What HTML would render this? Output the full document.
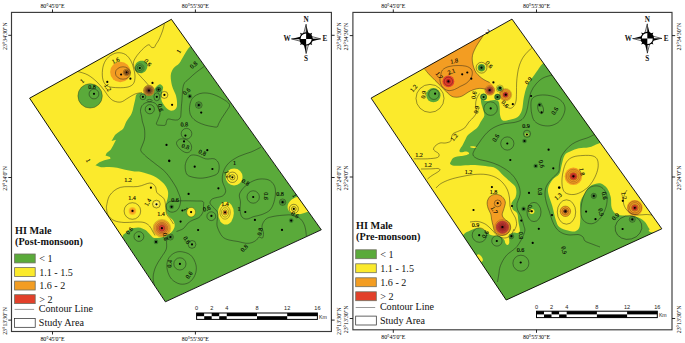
<!DOCTYPE html>
<html><head><meta charset="utf-8"><title>HI Male maps</title>
<style>html,body{margin:0;padding:0;background:#fff}svg{display:block}.cl{font-family:"Liberation Serif",serif;fill:#000;stroke:#000;stroke-width:0.12px}.ax{font-family:"Liberation Serif",serif;font-size:5.9px;fill:#000}.lg{font-family:"Liberation Serif",serif;font-size:10.1px;fill:#111}.lt{font-family:"Liberation Serif",serif;font-size:10.2px;font-weight:bold;fill:#111}.sb{font-family:"Liberation Sans",sans-serif;font-size:5.6px;fill:#222}.cp{font-family:"Liberation Serif",serif;font-size:7.2px;font-weight:bold;fill:#111}</style></head><body>
<svg width="685" height="343" viewBox="0 0 685 343">
<rect width="685" height="343" fill="#fff"/>
<defs>
<radialGradient id="gRed"><stop offset="0" stop-color="#7a1a1c"/><stop offset="0.12" stop-color="#cc3430"/><stop offset="0.32" stop-color="#d6402f"/><stop offset="0.4" stop-color="#d8702a"/><stop offset="0.65" stop-color="#e28628"/><stop offset="0.72" stop-color="#f09e2a"/><stop offset="0.94" stop-color="#f4ae2a"/><stop offset="1" stop-color="#f8cc2c"/></radialGradient>
<radialGradient id="gRed2"><stop offset="0" stop-color="#6a1518"/><stop offset="0.3" stop-color="#b02c2c"/><stop offset="0.75" stop-color="#cc4036"/><stop offset="1" stop-color="#d4503a"/></radialGradient>
<radialGradient id="gA"><stop offset="0" stop-color="#5a1a1c"/><stop offset="0.3" stop-color="#a83a30"/><stop offset="0.6" stop-color="#c8602c"/><stop offset="0.85" stop-color="#e8902a"/><stop offset="1" stop-color="#f0a82a"/></radialGradient>
<radialGradient id="gBrown"><stop offset="0" stop-color="#4a1a18"/><stop offset="0.35" stop-color="#8a4a2a"/><stop offset="0.7" stop-color="#c98a2e"/><stop offset="1" stop-color="#e2ad2c"/></radialGradient>
<radialGradient id="gOr"><stop offset="0" stop-color="#e9621f"/><stop offset="0.55" stop-color="#f39d22"/><stop offset="1" stop-color="#f7c92a"/></radialGradient>
<radialGradient id="gRedOr"><stop offset="0" stop-color="#8c1a1a"/><stop offset="0.25" stop-color="#dc3427"/><stop offset="0.45" stop-color="#e2402a"/><stop offset="0.5" stop-color="#f39d22"/><stop offset="1" stop-color="#f39d22"/></radialGradient>
<radialGradient id="gGr"><stop offset="0" stop-color="#2f6f2a"/><stop offset="0.6" stop-color="#4a9a36"/><stop offset="1" stop-color="#5aaa3a"/></radialGradient>
<clipPath id="cpL"><path d="M171.4,19.3 L321.3,229.8 L165.4,301.8 L29.6,98.2Z"/></clipPath>
<clipPath id="cpR"><path d="M512,19.1 L661.8,228.8 L506.2,300 L371.1,98.1Z"/></clipPath>
</defs>
<g clip-path="url(#cpL)">
<path d="M171.4,19.3 L321.3,229.8 L165.4,301.8 L29.6,98.2Z" fill="#5aaa3a"/>
<path d="M171.2,10 C176,15 196.8,34 200,40 C203.2,46 192.9,43.7 190.3,46.2 C187.7,48.7 186,52.2 184.2,55 C182.4,57.8 181.1,61 179.3,63.2 C177.5,65.4 174.9,66.3 173.5,68.3 C172.1,70.3 171.1,72.4 170.8,75 C170.5,77.6 171.1,81.5 171.6,84 C172.1,86.5 172.9,88.2 173.6,90 C174.3,91.8 175.2,93 175.8,95 C176.4,97 176.9,99.9 177,102 C177.1,104.1 177.1,106.3 176.4,107.7 C175.7,109.1 174.3,110.3 172.9,110.6 C171.5,110.9 169.8,110.6 168.2,109.5 C166.6,108.4 164.7,106 163.5,104.2 C162.3,102.4 161.4,100.4 161.2,98.4 C161,96.4 161.9,93.9 162.2,92 C162.5,90.1 163.4,88.3 163,87 C162.6,85.7 161.1,84.4 160,84.3 C158.9,84.2 157.7,85.4 156.5,86.5 C155.3,87.6 154.2,89.8 153,91 C151.8,92.2 150.7,93.6 149,94 C147.3,94.4 144.7,93.3 143,93.2 C141.3,93.1 140.1,92.9 139,93.2 C137.9,93.5 136.9,93.8 136.3,94.8 C135.7,95.8 135.7,97.2 135.3,99 C134.9,100.8 134.4,102.9 133.8,105.4 C133.2,107.9 132.7,111.2 131.5,113.8 C130.3,116.4 127.9,118.8 126.5,121.3 C125.1,123.8 124.5,126.9 123.3,128.6 C122.1,130.3 120.8,130.5 119.5,131.5 C118.2,132.5 116.6,133.4 115.5,134.6 C114.4,135.8 113.4,137.8 113,138.5 L111.5,140.9 L116,139.8 L113,145.7 L110.7,149.7 L106.7,152.9 L105.5,155.6 L110,157 L110.5,158.7 L104.3,160.3 L99.4,162.2 L95.4,165.2 L101,167.3 C102.3,167.2 106.4,166.8 109.1,166.9 C111.8,167 114.4,167.3 117.1,167.8 C119.8,168.3 122.4,169.1 125.1,169.7 C127.8,170.3 130.4,170.9 133.1,171.3 C135.8,171.7 137.9,171.1 141.3,171.9 C144.7,172.7 149.9,174.2 153.6,176 C157.2,177.8 160.9,180.7 163.2,183 C165.5,185.3 166.8,187.7 167.6,190 C168.4,192.3 168.2,194.4 167.9,197 C167.6,199.6 165.9,202.9 165.8,205.8 C165.7,208.7 166.1,211.7 167.4,214.3 C168.7,216.9 172.4,219.1 173.6,221.3 C174.8,223.5 175,225.4 174.4,227.4 C173.8,229.4 171.9,231.9 170,233.5 C168.1,235.1 165.6,236.3 163,237 C160.4,237.7 156.5,238.3 154.3,237.9 C152.1,237.5 151.5,235.7 150,234.4 C148.5,233.1 147.4,231.2 145.5,230 C143.6,228.8 141.1,227.5 138.5,227.4 C135.9,227.3 132.3,228 129.8,229.2 C127.3,230.4 126.9,232.6 123.6,234.4 C120.3,236.2 127.3,262.7 110,240 C92.7,217.3 35,121.7 20,98Z" fill="#fbea2c"/>
<circle cx="90.1" cy="95.9" r="12.2" fill="#5aaa3a"/>
<path d="M134.8,68 C134.9,66.8 135.2,64.7 136,63.5 C136.8,62.3 138.2,61.4 139.5,61 C140.8,60.6 142.8,60.5 144,60.9 C145.2,61.3 146.4,62.5 147,63.5 C147.6,64.5 147.6,65.8 147.3,67 C147.1,68.2 146.4,70 145.5,71 C144.6,72 143.2,72.9 142,73.2 C140.8,73.5 139.1,73.2 138,72.8 C136.9,72.4 136,71.8 135.5,71 C135,70.2 134.7,69.2 134.8,68Z" fill="#58a83a"/>
<circle cx="120.3" cy="72" r="10.2" fill="#f39d22"/>
<circle cx="126.8" cy="72.6" r="2.4" fill="#b5651f"/>
<circle cx="148.9" cy="90.5" r="5.6" fill="url(#gBrown)"/>
<circle cx="158.6" cy="89.6" r="2.6" fill="#3f8a30"/>
<circle cx="234.1" cy="176.9" r="8.5" fill="#fbea2c"/>
<ellipse cx="225.9" cy="213.1" rx="7.9" ry="11.4" fill="#fbea2c"/>
<circle cx="225.1" cy="212.4" r="2.2" fill="#f08a1f"/>
<path d="M287.6,207.5 C287.6,206.3 287.7,204.8 288.4,203.5 C289.1,202.2 290.2,200.7 291.8,199.6 C293.4,198.5 295.3,196.9 297.7,197 C300.1,197.1 303.9,197.8 306,200 C308.1,202.2 310.1,207.9 310,210 C309.9,212.1 307.5,211.8 305.7,212.5 C303.9,213.2 301.4,214.2 299.1,214.3 C296.8,214.4 293.6,213.5 291.8,212.9 C290.1,212.3 289.3,211.4 288.6,210.5 C287.9,209.6 287.6,208.7 287.6,207.5Z" fill="#fbea2c"/>
<ellipse cx="191.1" cy="212.2" rx="4.4" ry="4.8" fill="#fbea2c"/>
<circle cx="156.4" cy="204.1" r="2.2" fill="#fdf27a"/>
<circle cx="132.4" cy="211" r="3.9" fill="url(#gOr)"/>
<circle cx="161.9" cy="228.2" r="8.8" fill="url(#gRed)"/>
</g>
<g clip-path="url(#cpL)">
<path d="M164.4,23.7 C164.1,24.9 163.4,28.4 162.5,31 C161.6,33.6 160.1,37.2 159,39.5 C157.9,41.8 156.5,43.5 155.7,44.8 C154.9,46.1 155,47 154.3,47.4 C153.6,47.8 152.3,47.8 151.5,47.4 C150.7,47 150.2,45.3 149.5,45 C148.8,44.7 148.2,44.7 147,45.5 C145.8,46.3 143.9,47.8 142.1,49.7 C140.2,51.7 137.3,54.9 135.9,57.2 C134.5,59.5 133.4,61.1 133.4,63.4 C133.4,65.7 134.8,68.7 135.9,70.8 C137,72.9 138.8,74.3 140.2,76 C141.6,77.7 143.2,79.2 144.6,80.7 C145.9,82.2 147.7,84.3 148.3,85" fill="none" stroke="#1a1a1a" stroke-width="0.45"/>
<path d="M104,82.5 C103,80.6 102.4,77.9 102.3,75 C102.2,72.1 102.5,68 103.5,65 C104.5,62 106.2,59 108.5,57 C110.8,55 114.2,53.2 117,52.8 C119.8,52.4 123.2,53.1 125.5,54.5 C127.8,55.9 129.6,58.6 131,61 C132.4,63.4 133.1,66.3 133.8,69 C134.5,71.7 135.1,74.6 135,77 C134.9,79.4 134.7,81.8 133.5,83.5 C132.3,85.2 130.6,86.3 128,87 C125.4,87.7 121.2,87.8 118,87.7 C114.8,87.6 110.8,87.4 108.5,86.5 C106.2,85.6 105,84.4 104,82.5Z" fill="none" stroke="#1a1a1a" stroke-width="0.45"/>
<ellipse cx="123" cy="73" rx="7.6" ry="6.2" fill="none" stroke="#1a1a1a" stroke-width="0.45"/>
<circle cx="126.6" cy="72.4" r="2.2" fill="none" stroke="#1a1a1a" stroke-width="0.45"/>
<circle cx="126.6" cy="72.4" r="3.3" fill="none" stroke="#1a1a1a" stroke-width="0.35"/>
<path d="M78,71.5 C79.7,72.1 84.8,73.2 88,75 C91.2,76.8 94.3,79.5 97,82 C99.7,84.5 102,87.5 104,90 C106,92.5 107.3,95.2 109,97 C110.7,98.8 112,100.2 114,101 C116,101.8 118.7,102.5 121,102 C123.3,101.5 125.7,99.3 128,98 C130.3,96.7 132.7,94.9 135,94 C137.3,93.1 140.8,92.8 142,92.5" fill="none" stroke="#1a1a1a" stroke-width="0.45"/>
<circle cx="94" cy="94" r="4.9" fill="none" stroke="#1a1a1a" stroke-width="0.45"/>
<circle cx="90.1" cy="95.9" r="12.2" fill="none" stroke="#1a1a1a" stroke-width="0.35"/>
<circle cx="139.8" cy="68" r="2.6" fill="none" stroke="#1a1a1a" stroke-width="0.45"/>
<circle cx="139.8" cy="68" r="4.2" fill="none" stroke="#1a1a1a" stroke-width="0.35"/>
<circle cx="148.9" cy="90.5" r="1.6" fill="none" stroke="#2a1a10" stroke-width="0.3"/>
<circle cx="148.9" cy="90.5" r="2.8" fill="none" stroke="#2a1a10" stroke-width="0.3"/>
<circle cx="148.9" cy="90.5" r="4" fill="none" stroke="#2a1a10" stroke-width="0.3"/>
<circle cx="148.9" cy="90.5" r="5.2" fill="none" stroke="#2a1a10" stroke-width="0.3"/>
<circle cx="142.9" cy="96.8" r="2.9" fill="none" stroke="#1a1a1a" stroke-width="0.45"/>
<ellipse cx="156.8" cy="96.8" rx="2.9" ry="4" fill="none" stroke="#1a1a1a" stroke-width="0.45"/>
<circle cx="164.4" cy="94.9" r="3.5" fill="none" stroke="#1a1a1a" stroke-width="0.45"/>
<circle cx="158.6" cy="89.6" r="2.2" fill="none" stroke="#1a1a1a" stroke-width="0.45"/>
<ellipse cx="149.5" cy="100.5" rx="2.6" ry="1.1" fill="none" stroke="#1a1a1a" stroke-width="0.45"/>
<circle cx="149.8" cy="109.2" r="4.6" fill="none" stroke="#1a1a1a" stroke-width="0.45"/>
<path d="M141.5,116 C141.3,115 140.2,111.9 140.5,110 C140.8,108.1 141.6,105.8 143,104.5 C144.4,103.2 146.9,102.2 149,102 C151.1,101.8 153.9,102.3 155.5,103.5 C157.1,104.7 157.9,107.3 158.7,109 C159.4,110.7 160.1,112 160,113.8 C159.9,115.5 158.6,117.8 158,119.5 C157.4,121.2 156,123.3 156.5,124.3 C157,125.3 159.5,125.2 161,125.3 C162.5,125.4 164.4,125.7 165.3,125.1 C166.2,124.5 166.1,122.5 166.5,121.5 C166.9,120.5 166.9,119.3 168,119 C169.1,118.7 171.4,119.6 173,119.8 C174.6,120 176.4,120.3 177.6,119.9 C178.8,119.5 179.7,118.7 180.3,117.5 C180.9,116.3 180.8,115.1 181,113 C181.2,110.9 181.3,107.2 181.5,105 C181.7,102.8 181.7,103.3 182,100 C182.3,96.7 182.3,88.6 183.5,85 C184.7,81.4 187.2,80.6 189.3,78.5 C191.4,76.4 193.5,74.5 196,72.5 C198.5,70.5 203,67.3 204.4,66.3" fill="none" stroke="#1a1a1a" stroke-width="0.45"/>
<path d="M141.5,116 C141.7,117 142,120 142.5,122 C143,124 143.9,125.8 144.3,127.8 C144.7,129.8 144.8,132 144.8,134 C144.8,136 144.8,138 144.3,140 C143.8,142 142.6,144.2 142,146 C141.4,147.8 140.4,149 140.8,150.5 C141.2,152 143.1,153.5 144.5,155 C145.9,156.5 147.7,157.8 149.5,159.3 C151.3,160.8 152.6,161.6 155.3,163.8 C158,166 162.6,169 165.8,172.5 C169,176 172.6,181.6 174.6,184.8 C176.6,188 177,189.2 178,191.8 C179,194.4 180.7,197.6 180.7,200.5 C180.7,203.4 179.4,207.4 178,209.3 C176.6,211.2 173.8,212.2 172,212.2 C170.2,212.2 167.9,210.8 167,209.5 C166.1,208.2 166,205.8 166.5,204.5 C167,203.2 168.4,202.1 170,201.5 C171.6,200.9 173.3,201.1 176,201 C178.7,200.9 182.7,200.8 186,200.8 C189.3,200.8 193.2,200.9 196,201 C198.8,201.1 201.8,200.7 203,201.5 C204.2,202.3 203.5,204.2 203.5,206 C203.5,207.8 203.8,210.1 203,212 C202.2,213.9 200.7,216.2 199,217.5 C197.3,218.8 194.8,219.1 193,220 C191.2,220.9 189.6,221.6 188,223 C186.4,224.4 185.4,227.1 183.5,228.5 C181.6,229.9 177.7,231 176.5,231.5" fill="none" stroke="#1a1a1a" stroke-width="0.45"/>
<path d="M229.5,104.5 C228.8,102.4 224.9,100.2 222,98.5 C219.1,96.8 215.2,94.9 212,94 C208.8,93.1 205.6,92.8 203,93 C200.4,93.2 198.4,93.9 196.5,95 C194.6,96.1 192.8,97.4 191.6,99.5 C190.4,101.6 189.7,105.2 189.5,107.7 C189.3,110.2 189.7,112.7 190.4,114.7 C191.2,116.7 192.6,118.2 194,119.5 C195.4,120.8 196.8,121.6 198.6,122.5 C200.4,123.4 202.8,124.3 205,125 C207.2,125.7 210,126.2 212,126.5 C214,126.8 215.9,127.4 217,127 C218.1,126.6 217.8,125.4 218.5,124 C219.2,122.6 220.2,120.7 221.5,118.5 C222.8,116.3 225.2,113.3 226.5,111 C227.8,108.7 230.2,106.6 229.5,104.5Z" fill="none" stroke="#1a1a1a" stroke-width="0.45"/>
<circle cx="198.8" cy="105.1" r="3.3" fill="none" stroke="#1a1a1a" stroke-width="0.45"/>
<circle cx="198.8" cy="105.1" r="1.8" fill="none" stroke="#1a1a1a" stroke-width="0.3"/>
<circle cx="186.5" cy="133.7" r="5.3" fill="none" stroke="#1a1a1a" stroke-width="0.45"/>
<path d="M184,139 C185.6,139.2 187.2,139.8 188.5,141 C189.8,142.2 191.2,144.3 191.5,146 C191.8,147.7 191.4,149.9 190.5,151 C189.6,152.1 187.8,152.9 186,152.6 C184.2,152.3 181.6,150.5 180,149 C178.4,147.5 176.7,145.1 176.5,143.5 C176.3,141.9 177.8,140.2 179,139.5 C180.2,138.8 182.4,138.8 184,139Z" fill="none" stroke="#1a1a1a" stroke-width="0.45"/>
<path d="M260.9,147.2 C259.3,148 255,150.4 251.3,151.9 C247.7,153.4 242.8,154.4 239,156.3 C235.2,158.2 231.1,160.7 228.5,163.3 C225.9,165.9 224.3,169.1 223.3,172 C222.3,174.9 222.1,178.1 222.4,180.8 C222.7,183.5 224.5,186.1 225,188 C225.5,189.9 225.9,190.7 225.5,192 C225.1,193.3 224.5,195 222.3,196.1 C220.2,197.2 214.7,197.6 212.6,198.8 C210.5,200 209.8,201.7 210,203.1 C210.2,204.5 212.2,205.9 213.5,207.5 C214.8,209.1 217.1,210.7 217.7,212.8 C218.3,214.8 217.3,217.7 217.2,220 C217.1,222.3 216.5,224 217.3,226.8 C218.1,229.5 220.3,234.2 222.2,236.4 C224.2,238.6 226.4,239.2 229,240 C231.6,240.8 235.2,240.9 238,241.5 C240.8,242.1 243.7,243.1 246,243.3 C248.3,243.5 250.2,243.2 252,242.6 C253.8,242 255.3,240.9 256.5,240 C257.7,239.1 258,237.3 259,237 C260,236.7 261.8,238.7 262.5,238 C263.2,237.3 263.6,235 263.5,233 C263.4,231 261.6,228.3 262,226 C262.4,223.7 264,220.6 266,219 C268,217.4 270.9,217 274,216.3 C277.1,215.7 281.6,215.3 284.6,215.1 C287.6,214.9 289.4,214.6 291.8,215.1 C294.2,215.6 297.2,216.5 299.1,217.8 C301.1,219.1 302.4,221.1 303.5,223 C304.6,224.9 305,226.8 305.5,229 C306,231.2 306.2,234.8 306.4,236" fill="none" stroke="#1a1a1a" stroke-width="0.45"/>
<path d="M190,155.8 C191.9,154.5 194.4,154.9 197,155.4 C199.6,155.9 202.9,158.3 205.8,158.9 C208.7,159.5 212.3,158 214.5,158.9 C216.7,159.8 218.3,161.9 218.9,164.2 C219.5,166.5 219.3,170.9 218,172.9 C216.7,174.9 213.9,175.5 211,176.4 C208.1,177.3 204,178.2 200.5,178.2 C197,178.2 192.4,177.3 190,176.4 C187.6,175.5 186.8,174.7 186,172.5 C185.2,170.3 184.8,166.3 185.5,163.5 C186.2,160.7 188.1,157.2 190,155.8Z" fill="none" stroke="#1a1a1a" stroke-width="0.45"/>
<circle cx="232.4" cy="177.3" r="2.6" fill="none" stroke="#1a1a1a" stroke-width="0.45"/>
<circle cx="232.4" cy="177.3" r="5.2" fill="none" stroke="#1a1a1a" stroke-width="0.45"/>
<path d="M245.3,186 C247.4,183.9 249.6,182.7 252,181.5 C254.4,180.3 257.2,179.2 260,179 C262.8,178.8 266.5,179 268.8,180 C271.1,181 272.9,183 274,185 C275.1,187 275.5,189.2 275.5,192 C275.5,194.8 274.9,199 274,202 C273.1,205 272,207.9 270,210 C268,212.1 264.7,213.4 262,214.5 C259.3,215.6 256.5,215.8 254,216.5 C251.5,217.2 249,218.9 247,219 C245,219.1 243.2,218.5 242,217 C240.8,215.5 240.2,212.5 240,210 C239.8,207.5 240.6,204.7 240.5,202 C240.4,199.3 238.7,196.7 239.5,194 C240.3,191.3 243.2,188.1 245.3,186Z" fill="none" stroke="#1a1a1a" stroke-width="0.45"/>
<circle cx="253.2" cy="197" r="6.2" fill="none" stroke="#1a1a1a" stroke-width="0.45"/>
<circle cx="282.6" cy="202.2" r="3.2" fill="none" stroke="#1a1a1a" stroke-width="0.45"/>
<circle cx="282.6" cy="202.2" r="1.7" fill="none" stroke="#1a1a1a" stroke-width="0.3"/>
<circle cx="293.8" cy="208.9" r="2.4" fill="none" stroke="#1a1a1a" stroke-width="0.45"/>
<circle cx="293.8" cy="208.9" r="4.6" fill="none" stroke="#1a1a1a" stroke-width="0.45"/>
<circle cx="211.3" cy="216.2" r="4.4" fill="none" stroke="#1a1a1a" stroke-width="0.45"/>
<ellipse cx="225.1" cy="212.4" rx="2" ry="2.6" fill="none" stroke="#1a1a1a" stroke-width="0.35"/>
<ellipse cx="225.1" cy="212.4" rx="3.6" ry="4.7" fill="none" stroke="#1a1a1a" stroke-width="0.35"/>
<ellipse cx="225.1" cy="212.4" rx="5.2" ry="6.8" fill="none" stroke="#1a1a1a" stroke-width="0.35"/>
<path d="M106.3,207 C106.9,205.1 107.5,198.6 109.8,195.3 C112.1,192 115.6,188.9 120.3,187.4 C125,185.9 132.9,187.2 137.8,186.5 C142.8,185.8 147.1,183 150,183 C152.9,183 154.1,184.9 155.3,186.5 C156.5,188.1 155.6,190.6 157,192.7 C158.4,194.8 162.5,196.3 164,198.8 C165.5,201.3 165.4,205 165.8,207.5 C166.2,210 165.8,212.2 166.5,214 C167.2,215.8 168.8,216.8 170,218.5 C171.2,220.2 172.9,223.1 173.5,224" fill="none" stroke="#1a1a1a" stroke-width="0.45"/>
<path d="M106.3,207 C106.6,208.3 106.7,212.8 108,215 C109.3,217.2 111.3,219.2 114,220.5 C116.7,221.8 120.5,222.2 124,222.5 C127.5,222.8 131.7,222 135,222 C138.3,222 141.6,221.8 144,222.5 C146.4,223.2 148.1,224.6 149.5,226 C150.9,227.4 151.6,229.4 152.5,231 C153.4,232.6 154.6,234.8 155,235.5" fill="none" stroke="#1a1a1a" stroke-width="0.45"/>
<circle cx="132.4" cy="211" r="8.3" fill="none" stroke="#1a1a1a" stroke-width="0.45"/>
<circle cx="156.4" cy="204.1" r="3.9" fill="none" stroke="#1a1a1a" stroke-width="0.45"/>
<ellipse cx="191.1" cy="212.2" rx="4.4" ry="4.8" fill="none" stroke="#1a1a1a" stroke-width="0.3"/>
<circle cx="161.9" cy="228.2" r="2.9" fill="none" stroke="#3a2410" stroke-width="0.3" stroke-opacity="0.6"/>
<circle cx="161.9" cy="228.2" r="4.4" fill="none" stroke="#3a2410" stroke-width="0.3" stroke-opacity="0.6"/>
<circle cx="161.9" cy="228.2" r="5.9" fill="none" stroke="#3a2410" stroke-width="0.3" stroke-opacity="0.6"/>
<circle cx="161.9" cy="228.2" r="7.4" fill="none" stroke="#3a2410" stroke-width="0.3" stroke-opacity="0.6"/>
<circle cx="161.9" cy="228.2" r="8.8" fill="none" stroke="#3a2410" stroke-width="0.3" stroke-opacity="0.6"/>
<circle cx="138.9" cy="236.5" r="4.9" fill="none" stroke="#1a1a1a" stroke-width="0.45"/>
<circle cx="170.4" cy="237" r="3" fill="none" stroke="#1a1a1a" stroke-width="0.45"/>
<circle cx="192" cy="244.4" r="3.9" fill="none" stroke="#1a1a1a" stroke-width="0.45"/>
<circle cx="179.9" cy="263.9" r="6.1" fill="none" stroke="#1a1a1a" stroke-width="0.45"/>
<path d="M180,251.6 C183.1,251.7 187.8,252.8 190.5,255 C193.2,257.2 195.2,261.7 196,265 C196.8,268.3 196.2,272.1 195,275 C193.8,277.9 191.5,281 189,282.5 C186.5,284 182.9,284.6 180,284 C177.1,283.4 173.6,281.3 171.5,279 C169.4,276.7 168,273 167.3,270 C166.6,267 166.7,263.6 167.5,261 C168.3,258.4 169.9,256.1 172,254.5 C174.1,252.9 176.9,251.5 180,251.6Z" fill="none" stroke="#1a1a1a" stroke-width="0.45"/>
<path d="M168.5,236.5 C168.2,237.2 167,238.9 166.6,241 C166.2,243.1 167.2,246.2 166.3,249 C165.4,251.8 162.8,254.8 161,257.8 C159.2,260.7 157.1,263.3 155.8,266.5 C154.4,269.7 153.3,273.8 153.1,277 C152.9,280.2 154.3,284.5 154.5,286" fill="none" stroke="#1a1a1a" stroke-width="0.45"/>
</g>
<circle cx="171.6" cy="206.8" r="2.3" fill="#3d7d2e"/>
<circle cx="156" cy="241.9" r="2.3" fill="#3d7d2e"/>
<circle cx="291.2" cy="220.6" r="2.3" fill="#3d7d2e"/>
<circle cx="170.4" cy="237" r="2.3" fill="#3d7d2e"/>
<circle cx="282.6" cy="202.2" r="2.3" fill="#3d7d2e"/>
<circle cx="189.8" cy="96.3" r="2.3" fill="#3d7d2e"/>
<circle cx="198.8" cy="105.1" r="2.3" fill="#3d7d2e"/>
<circle cx="121.1" cy="74.5" r="1.1" fill="#000"/>
<circle cx="126.6" cy="72.4" r="1.1" fill="#000"/>
<circle cx="130.4" cy="78.7" r="1.1" fill="#000"/>
<circle cx="107.3" cy="81.9" r="1.1" fill="#000"/>
<circle cx="94" cy="93.8" r="1.1" fill="#000"/>
<circle cx="139.8" cy="68" r="1.1" fill="#000"/>
<circle cx="152.5" cy="82.9" r="1.1" fill="#000"/>
<circle cx="148.9" cy="90.5" r="1.1" fill="#000"/>
<circle cx="158.6" cy="89.6" r="1.1" fill="#000"/>
<circle cx="142.9" cy="96.8" r="1.1" fill="#000"/>
<circle cx="156.8" cy="96.8" r="1.1" fill="#000"/>
<circle cx="164.4" cy="94.9" r="1.1" fill="#000"/>
<circle cx="172.1" cy="104.8" r="1.1" fill="#000"/>
<circle cx="149.8" cy="109.2" r="1.1" fill="#000"/>
<circle cx="189.8" cy="96.3" r="1.1" fill="#000"/>
<circle cx="198.8" cy="105.1" r="1.1" fill="#000"/>
<circle cx="201.2" cy="112.6" r="1.1" fill="#000"/>
<circle cx="185.4" cy="135.6" r="1.1" fill="#000"/>
<circle cx="184" cy="141.4" r="1.1" fill="#000"/>
<circle cx="166.5" cy="144.9" r="1.1" fill="#000"/>
<circle cx="169.2" cy="160.7" r="1.1" fill="#000"/>
<circle cx="207.3" cy="150.2" r="1.1" fill="#000"/>
<circle cx="150.9" cy="187.7" r="1.1" fill="#000"/>
<circle cx="156.5" cy="204.3" r="1.1" fill="#000"/>
<circle cx="132.5" cy="210.9" r="1.1" fill="#000"/>
<circle cx="169.3" cy="161.1" r="1.1" fill="#000"/>
<circle cx="194.7" cy="166.7" r="1.1" fill="#000"/>
<circle cx="212.4" cy="169" r="1.1" fill="#000"/>
<circle cx="188.6" cy="193.9" r="1.1" fill="#000"/>
<circle cx="171.6" cy="206.8" r="1.1" fill="#000"/>
<circle cx="182.4" cy="210.5" r="1.1" fill="#000"/>
<circle cx="191.1" cy="212.1" r="1.1" fill="#000"/>
<circle cx="232.4" cy="177.3" r="1.1" fill="#000"/>
<circle cx="218.4" cy="188.3" r="1.1" fill="#000"/>
<circle cx="253.2" cy="197" r="1.1" fill="#000"/>
<circle cx="245.3" cy="212" r="1.1" fill="#000"/>
<circle cx="254.9" cy="219.9" r="1.1" fill="#000"/>
<circle cx="282" cy="229.9" r="1.1" fill="#000"/>
<circle cx="282.6" cy="202.2" r="1.1" fill="#000"/>
<circle cx="291.2" cy="220.6" r="1.1" fill="#000"/>
<circle cx="293.8" cy="208.9" r="1.1" fill="#000"/>
<circle cx="211.4" cy="215.9" r="1.1" fill="#000"/>
<circle cx="225.1" cy="212.4" r="1.1" fill="#000"/>
<circle cx="161.9" cy="228.2" r="1.1" fill="#000"/>
<circle cx="180.6" cy="221.6" r="1.1" fill="#000"/>
<circle cx="198.1" cy="230" r="1.1" fill="#000"/>
<circle cx="138.9" cy="236.5" r="1.1" fill="#000"/>
<circle cx="156" cy="241.9" r="1.1" fill="#000"/>
<circle cx="170.4" cy="237" r="1.1" fill="#000"/>
<circle cx="192" cy="244.4" r="1.1" fill="#000"/>
<circle cx="179.9" cy="263.9" r="1.1" fill="#000"/>
<text x="116.5" y="62.5" font-size="6.1" text-anchor="middle" transform="rotate(-25 116.5 62.5)" class="cl">1.6</text>
<text x="83.5" y="82.5" font-size="6.1" text-anchor="middle" transform="rotate(-40 83.5 82.5)" class="cl">1</text>
<text x="92" y="88.5" font-size="6.1" text-anchor="middle" transform="rotate(0 92 88.5)" class="cl">0.8</text>
<text x="106" y="88.5" font-size="6.1" text-anchor="middle" transform="rotate(60 106 88.5)" class="cl">1.2</text>
<text x="146.3" y="63.8" font-size="6.1" text-anchor="middle" transform="rotate(50 146.3 63.8)" class="cl">0.6</text>
<text x="180.5" y="52.5" font-size="6.1" text-anchor="middle" transform="rotate(-55 180.5 52.5)" class="cl">1</text>
<text x="195" y="66.5" font-size="6.1" text-anchor="middle" transform="rotate(-40 195 66.5)" class="cl">0.8</text>
<text x="86.5" y="161.5" font-size="6.1" text-anchor="middle" transform="rotate(65 86.5 161.5)" class="cl">1</text>
<text x="128" y="182" font-size="6.1" text-anchor="middle" transform="rotate(0 128 182)" class="cl">1.2</text>
<text x="132" y="199.5" font-size="6.1" text-anchor="middle" transform="rotate(0 132 199.5)" class="cl">1.4</text>
<text x="149.5" y="203.5" font-size="6.1" text-anchor="middle" transform="rotate(-60 149.5 203.5)" class="cl">1.4</text>
<text x="234.5" y="164.5" font-size="6.1" text-anchor="middle" transform="rotate(0 234.5 164.5)" class="cl">1</text>
<text x="225.5" y="175" font-size="6.1" text-anchor="middle" transform="rotate(70 225.5 175)" class="cl">1.2</text>
<text x="244.5" y="184" font-size="6.1" text-anchor="middle" transform="rotate(30 244.5 184)" class="cl">0.8</text>
<text x="264" y="196" font-size="6.1" text-anchor="middle" transform="rotate(90 264 196)" class="cl">0.6</text>
<text x="280" y="195.5" font-size="6.1" text-anchor="middle" transform="rotate(0 280 195.5)" class="cl">0.8</text>
<text x="175" y="202" font-size="6.1" text-anchor="middle" transform="rotate(0 175 202)" class="cl">0.6</text>
<text x="161" y="215.5" font-size="6.1" text-anchor="middle" transform="rotate(0 161 215.5)" class="cl">1.4</text>
<text x="131" y="232" font-size="6.1" text-anchor="middle" transform="rotate(-50 131 232)" class="cl">0.6</text>
<text x="163.5" y="237" font-size="6.1" text-anchor="middle" transform="rotate(80 163.5 237)" class="cl">0.6</text>
<text x="185" y="241" font-size="6.1" text-anchor="middle" transform="rotate(60 185 241)" class="cl">0.6</text>
<text x="207.4" y="210.5" font-size="6.1" text-anchor="middle" transform="rotate(-20 207.4 210.5)" class="cl">0.6</text>
<text x="184.3" y="210" font-size="6.1" text-anchor="middle" transform="rotate(60 184.3 210)" class="cl">1</text>
<text x="225" y="206.2" font-size="6.1" text-anchor="middle" transform="rotate(0 225 206.2)" class="cl">1.4</text>
<text x="171.6" y="264" font-size="6.1" text-anchor="middle" transform="rotate(-85 171.6 264)" class="cl">0.4</text>
<text x="190.6" y="276.3" font-size="6.1" text-anchor="middle" transform="rotate(-50 190.6 276.3)" class="cl">0.6</text>
<text x="262" y="232" font-size="6.1" text-anchor="middle" transform="rotate(-80 262 232)" class="cl">0.8</text>
<text x="245.8" y="249.5" font-size="6.1" text-anchor="middle" transform="rotate(-45 245.8 249.5)" class="cl">0.8</text>
<text x="184.5" y="126.5" font-size="6.1" text-anchor="middle" transform="rotate(-5 184.5 126.5)" class="cl">0.8</text>
<text x="185" y="148.5" font-size="6.1" text-anchor="middle" transform="rotate(15 185 148.5)" class="cl">0.8</text>
<text x="201.5" y="154.5" font-size="6.1" text-anchor="middle" transform="rotate(25 201.5 154.5)" class="cl">0.8</text>
<text x="158.5" y="108" font-size="6.1" text-anchor="middle" transform="rotate(80 158.5 108)" class="cl">0.6</text>
<text x="294" y="216.5" font-size="6.1" text-anchor="middle" transform="rotate(30 294 216.5)" class="cl">0.6</text>
<text x="293" y="196.5" font-size="6.1" text-anchor="middle" transform="rotate(60 293 196.5)" class="cl">1</text>
<text x="239" y="211" font-size="6.1" text-anchor="middle" transform="rotate(0 239 211)" class="cl">1</text>
<text x="188" y="93" font-size="6.1" text-anchor="middle" transform="rotate(-40 188 93)" class="cl">0.6</text>
<path d="M171.4,19.3 L321.3,229.8 L165.4,301.8 L29.6,98.2Z" fill="none" stroke="#000" stroke-width="0.9"/>
<g clip-path="url(#cpR)">
<path d="M512,19.1 L661.8,228.8 L506.2,300 L371.1,98.1Z" fill="#fbea2c"/>
<path d="M560,50 C550.6,45.5 547.1,59.8 543.5,63 C539.9,66.2 540,67 538.5,69 C537,71 536.2,72.2 534.3,75 C532.4,77.8 529,81.7 527.3,85.5 C525.5,89.3 524.7,93.7 523.8,97.8 C522.9,101.9 523,106.8 522,110 C521,113.2 519.7,115.4 517.7,117 C515.7,118.6 512.3,119.1 509.8,119.7 C507.3,120.3 504.4,121.2 502.8,120.5 C501.2,119.8 500.6,117.6 500.1,115.3 C499.6,113 499.9,108.8 499.6,106.5 C499.3,104.2 499.3,102.6 498.5,101.5 C497.7,100.4 496.3,100.2 495,100 C493.7,99.8 492.1,100.2 490.5,100.4 C488.9,100.6 487,101.2 485.5,101 C484,100.8 482,99 481.3,99.3 C480.6,99.6 481,101.5 481.2,103 C481.4,104.5 482.1,105.9 482.6,108 C483.1,110.1 484.6,113.2 484.3,115.5 C484,117.8 481.7,120 480.6,122 C479.5,124 479,125.7 477.6,127.3 C476.2,128.9 474,130.3 472.4,131.6 C470.8,132.9 469.2,133.8 468,135.1 C466.8,136.4 466.3,137.9 465.4,139.5 C464.5,141.1 463.8,143.1 462.8,144.8 C461.8,146.6 460,148.8 459.6,150 C459.2,151.2 459.4,152 460.5,152.3 C461.6,152.6 465.1,151.3 466.5,151.6 C467.9,151.9 469.8,153.2 468.9,153.9 C468,154.7 463.5,155.5 461,156.1 C458.5,156.7 455.7,156.6 454,157.5 C452.3,158.4 451.5,160.3 450.9,161.4 C450.3,162.5 449.7,163.3 450.2,164 C450.7,164.7 451.9,165.6 454,165.8 C456.1,166 459.3,165.6 462.8,165.4 C466.3,165.2 471.2,164.8 475,164.9 C478.8,165 482,165.5 485.5,166.1 C489,166.7 493,166.8 496,168.4 C499,170 500.8,173.1 503.3,175.4 C505.8,177.7 508.8,180.3 510.8,182.2 C512.8,184 514.3,184.9 515.2,186.5 C516.1,188.1 516.3,189.8 516.4,191.5 C516.5,193.2 516.2,195.4 515.6,197 C515,198.6 513.5,199.8 512.8,201 C512.1,202.2 511.4,202.6 511.4,204 C511.4,205.4 511.9,207.9 512.9,209.5 C513.9,211.1 516.4,211.4 517.3,213.5 C518.2,215.6 518,219 518.4,221.8 C518.8,224.6 520,228.6 519.9,230.5 C519.8,232.4 518.6,232.7 517.5,233 C516.4,233.3 514.7,232.2 513.5,232.5 C512.3,232.8 511.2,233.6 510.5,234.5 C509.8,235.4 509.4,236.6 509.2,238 C509,239.4 509.5,241.8 509.2,243 C508.9,244.2 508.1,244.9 507.5,245 C506.9,245.1 506.1,244.4 505.5,243.5 C504.9,242.6 505,240.7 504,239.5 C503,238.3 501.7,237.1 499.5,236.4 C497.3,235.7 493.1,236 490.8,235.1 C488.5,234.2 487.6,232 485.5,230.8 C483.4,229.6 481.1,228.1 478.5,228.1 C475.9,228.1 472.6,229.5 469.8,230.8 C467.1,232.1 467,231.1 462,236 C457,240.9 432.6,246 440,260 C447.4,274 466.4,323.3 506.4,320 C546.4,316.7 655.9,254.6 680,240 C704.1,225.4 656.1,234.2 651,232.3 C645.9,230.4 650.5,230.7 649.3,228.8 C648.1,226.9 646.3,223 644,220.9 C641.7,218.8 638.5,217.4 635.3,216.5 C632.1,215.6 628,216 624.8,215.6 C621.6,215.2 618.2,215.2 616,213.9 C613.8,212.6 612.6,210.6 611.7,207.8 C610.8,205 611.5,200.5 610.8,197.3 C610.1,194.1 608.9,190.8 607.3,188.5 C605.7,186.2 603,184.2 601,183.5 C599,182.8 597,183.4 595,184 C593,184.6 590.8,185.4 589,187 C587.2,188.6 586,191.2 584.5,193.8 C583,196.4 581,199.1 580.3,202.5 C579.6,205.9 580.5,209.9 580.4,214 C580.3,218.1 580.4,224.1 579.5,227 C578.6,229.9 576.9,230.8 575,231.4 C573.1,232 570.6,231.2 568,230.5 C565.4,229.8 561.3,228.8 559.3,227 C557.3,225.2 557,223.5 555.8,220 C554.6,216.5 553.5,210.1 552.3,206 C551.1,201.9 549.5,198.5 548.8,195.5 C548.1,192.5 547.6,190.6 548.2,188 C548.8,185.4 550.4,182.4 552.3,180 C554.2,177.6 557.9,176.2 559.4,173.8 C560.9,171.4 560.6,168.8 561.5,165.7 C562.4,162.6 563,157.8 564.5,155.4 C566,153 568.3,152.5 570.7,151.3 C573.1,150.1 575.8,149 578.8,148.3 C581.8,147.6 585.6,148.2 589,147.3 C592.4,146.5 594.1,145.2 599.3,143.2 C604.5,141.1 619.9,143.9 620,135 C620.1,126.1 610,104.2 600,90 C590,75.8 569.4,54.5 560,50Z" fill="#5aaa3a"/>
<ellipse cx="473.3" cy="147.1" rx="3.4" ry="0.8" fill="#fbea2c" transform="rotate(8 473.3 147.1)"/>
<ellipse cx="479.8" cy="258" rx="2.2" ry="4.2" fill="#fbea2c" transform="rotate(-33 479.8 258)"/>
<circle cx="531.8" cy="211.3" r="2.6" fill="#fbea2c"/>
<circle cx="526.9" cy="134.5" r="1.8" fill="#cfd83a"/>
<circle cx="433.4" cy="95.2" r="7.1" fill="#58a83a"/>
<circle cx="481.5" cy="67.7" r="3.8" fill="url(#gGr)"/>
<path d="M410,60 C407.5,66.6 421.6,66.9 424.9,69.4 C428.2,72 427.4,72.6 430,75.3 C432.6,78 437.3,82.6 440.5,85.8 C443.7,89 447,92.6 449.3,94.5 C451.6,96.4 452.5,96.8 454.5,97.1 C456.5,97.4 458.9,97.3 461.5,96.3 C464.1,95.3 467.4,92.3 470.3,91 C473.2,89.7 476.4,88.6 479,88.4 C481.6,88.2 484.2,89.2 486,90 C487.8,90.8 488.7,92.8 490,93 C491.3,93.2 493.5,92.2 494,91 C494.5,89.8 493.7,87.4 493,86 C492.3,84.6 491.6,83.8 489.7,82.5 C487.8,81.2 484.3,80.2 481.8,78.2 C479.3,76.2 476.4,73.7 474.8,70.3 C473.2,66.9 472.1,61.8 472.2,58 C472.3,54.2 473.8,51.3 475.7,47.5 C477.6,43.7 481.1,39.8 483.5,35.2 C485.9,30.7 497.2,20.9 490,20 C482.8,19.1 453.3,23.3 440,30 C426.7,36.7 412.5,53.4 410,60Z" fill="#f39d22"/>
<circle cx="481.5" cy="67.7" r="5.6" fill="#fbea2c"/>
<circle cx="481.5" cy="67.7" r="3.8" fill="url(#gGr)"/>
<circle cx="448.4" cy="81.4" r="5.9" fill="#e2402a"/>
<circle cx="448.4" cy="81.4" r="2.4" fill="#b0201e"/>
<circle cx="505.5" cy="94.7" r="6" fill="#f39d22"/>
<circle cx="505.5" cy="94.7" r="2.7" fill="#d23a30"/>
<circle cx="505.5" cy="94.7" r="1.3" fill="#8a1c1c"/>
<circle cx="489.8" cy="90.2" r="5.2" fill="url(#gA)"/>
<circle cx="499.8" cy="88.6" r="2.7" fill="url(#gGr)"/>
<circle cx="483.6" cy="97" r="3.4" fill="#5aaa3a"/>
<circle cx="497.5" cy="97" r="3.2" fill="url(#gGr)"/>
<path d="M496.3,194.4 C498.2,194.5 500.5,195.2 502,196.5 C503.5,197.8 505,200 505.3,202 C505.6,204 504.5,206.4 504,208.5 C503.5,210.6 502.1,213.1 502.2,214.8 C502.3,216.6 503.3,217.6 504.5,219 C505.7,220.4 508.5,221.3 509.5,223 C510.5,224.7 510.9,227.2 510.5,229 C510.1,230.8 508.7,232.9 507,234 C505.3,235.1 502.5,235.8 500.5,235.5 C498.5,235.2 496.2,233.7 495,232 C493.8,230.3 493.6,227.7 493,225.5 C492.4,223.3 491.9,220.9 491.5,219 C491.1,217.1 491.4,215.8 490.8,214 C490.2,212.2 488.6,210.1 488,208 C487.4,205.9 486.9,203.5 487.3,201.5 C487.7,199.5 489,197.2 490.5,196 C492,194.8 494.4,194.3 496.3,194.4Z" fill="#f39d22"/>
<circle cx="502.4" cy="227.2" r="6.5" fill="url(#gRed2)"/>
<circle cx="573.4" cy="176.3" r="8.7" fill="#f39d22"/>
<circle cx="573.4" cy="176.3" r="3.5" fill="#e2402a"/>
<circle cx="573.4" cy="176.3" r="1.7" fill="#a01c1c"/>
<circle cx="565.4" cy="211.3" r="5.4" fill="#f39d22"/>
<circle cx="565.4" cy="211.3" r="2.1" fill="#8a4a22"/>
<circle cx="634.8" cy="207.8" r="7.9" fill="#f39d22"/>
<circle cx="634.8" cy="207.8" r="2.8" fill="#e2402a"/>
</g>
<g clip-path="url(#cpR)">
<ellipse cx="448.4" cy="81.4" rx="4.2" ry="4.2" fill="none" stroke="#1a1a1a" stroke-width="0.35"/>
<path d="M440.6,76 C441,74.2 441.1,71.6 442.5,70 C443.9,68.4 446.4,67.2 449,66.5 C451.6,65.8 455.2,65.5 458,65.5 C460.8,65.5 463.8,65.6 466,66.2 C468.2,66.8 469.9,67.8 471,69 C472.1,70.2 472.4,71.8 472.3,73.5 C472.2,75.2 471.6,77.3 470.5,79 C469.4,80.7 467.8,82.2 466,83.5 C464.2,84.8 461.9,85.5 460,86.5 C458.1,87.5 456.5,88.8 454.5,89.5 C452.5,90.2 450,90.9 448,90.5 C446,90.1 443.8,88.6 442.5,87 C441.2,85.4 440.3,82.8 440,81 C439.7,79.2 440.2,77.8 440.6,76Z" fill="none" stroke="#1a1a1a" stroke-width="0.45"/>
<path d="M483.5,35.2 C482.2,37.3 477.6,43.7 475.7,47.5 C473.8,51.3 472.3,54.2 472.2,58 C472.1,61.8 473.2,66.9 474.8,70.3 C476.4,73.7 479.3,76.2 481.8,78.2 C484.3,80.2 488.4,81.8 489.7,82.5" fill="none" stroke="#1a1a1a" stroke-width="0.45"/>
<circle cx="481.5" cy="67.7" r="5.4" fill="none" stroke="#1a1a1a" stroke-width="0.45"/>
<circle cx="481.5" cy="67.7" r="2.4" fill="none" stroke="#1a1a1a" stroke-width="0.3"/>
<circle cx="430" cy="98.4" r="14" fill="none" stroke="#1a1a1a" stroke-width="0.45"/>
<circle cx="433.9" cy="94.3" r="5.2" fill="none" stroke="#1a1a1a" stroke-width="0.45"/>
<path d="M424.9,69.4 C425.8,70.4 427.4,72.6 430,75.3 C432.6,78 437.3,82.6 440.5,85.8 C443.7,89 447,92.6 449.3,94.5 C451.6,96.4 452.5,96.8 454.5,97.1 C456.5,97.4 458.9,97.3 461.5,96.3 C464.1,95.3 467.4,92.3 470.3,91 C473.2,89.7 476.4,88.7 479,88.4 C481.6,88.1 484.8,89.2 486,89.3" fill="none" stroke="#1a1a1a" stroke-width="0.45"/>
<circle cx="489.8" cy="90.2" r="2" fill="none" stroke="#2a1a10" stroke-width="0.3" stroke-opacity="0.6"/>
<circle cx="489.8" cy="90.2" r="3.4" fill="none" stroke="#2a1a10" stroke-width="0.3" stroke-opacity="0.6"/>
<circle cx="489.8" cy="90.2" r="4.8" fill="none" stroke="#2a1a10" stroke-width="0.3" stroke-opacity="0.6"/>
<circle cx="505.5" cy="94.7" r="2.2" fill="none" stroke="#2a1a10" stroke-width="0.3" stroke-opacity="0.6"/>
<circle cx="505.5" cy="94.7" r="3.6" fill="none" stroke="#2a1a10" stroke-width="0.3" stroke-opacity="0.6"/>
<circle cx="505.5" cy="94.7" r="5" fill="none" stroke="#2a1a10" stroke-width="0.3" stroke-opacity="0.6"/>
<circle cx="505.5" cy="94.7" r="6.2" fill="none" stroke="#2a1a10" stroke-width="0.3" stroke-opacity="0.6"/>
<circle cx="499.8" cy="88.6" r="2" fill="none" stroke="#1a1a1a" stroke-width="0.3"/>
<circle cx="499.8" cy="88.6" r="3.6" fill="none" stroke="#1a1a1a" stroke-width="0.3"/>
<circle cx="483.6" cy="97" r="2.8" fill="none" stroke="#1a1a1a" stroke-width="0.45"/>
<circle cx="497.5" cy="97" r="2.6" fill="none" stroke="#1a1a1a" stroke-width="0.45"/>
<circle cx="490.6" cy="108.6" r="6.8" fill="none" stroke="#1a1a1a" stroke-width="0.45"/>
<path d="M532,47.5 C530.7,48.9 526.1,53.1 524,56 C521.9,58.9 520.6,62 519.5,65 C518.4,68 518,71 517.5,74 C517,77 516.8,80 516.6,83 C516.4,86 516.6,89 516.5,92 C516.4,95 516.5,98.6 516,101 C515.5,103.4 514.5,105.3 513.5,106.5 C512.5,107.7 511.3,108.4 510,108.3 C508.7,108.2 507.1,107 505.8,106 C504.6,105 503.1,102.7 502.5,102" fill="none" stroke="#1a1a1a" stroke-width="0.45"/>
<path d="M552,75 C550.5,75.5 545.7,76.5 543,78 C540.3,79.5 538,81.7 536,84 C534,86.3 532.2,89 531,92 C529.8,95 529.2,98.7 528.5,102 C527.8,105.3 527.6,109.1 526.5,112 C525.4,114.9 524.1,117.8 522,119.5 C519.9,121.2 516.8,121.8 514,122.5 C511.2,123.2 507.8,122.9 505,123.5 C502.2,124.1 499.5,124.9 497,126 C494.5,127.1 492.2,128.3 490,130 C487.8,131.7 485.8,133.8 484,136 C482.2,138.2 480.5,140.8 479,143 C477.5,145.2 476,147 475,149 C474,151 472.5,153.3 473,155 C473.5,156.7 475.5,157.9 478,159 C480.5,160.1 484.7,160.5 488,161.5 C491.3,162.5 494.7,163.4 498,165 C501.3,166.6 505.2,168.9 508,171 C510.8,173.1 512.7,175.2 514.5,177.5 C516.3,179.8 517.6,182.6 518.6,185 C519.6,187.4 520.1,189.9 520.2,192 C520.3,194.1 519.8,195.6 519.3,197.5 C518.8,199.4 517.3,201.4 517,203.5 C516.7,205.6 516.9,207.9 517.6,210 C518.3,212.1 520,213.7 521,216.2 C522,218.7 523,222.3 523.6,225 C524.2,227.7 525.6,228.9 524.5,232.5 C523.4,236.1 520,242.7 517,246.5 C514,250.3 509.3,252.1 506.5,255.3 C503.7,258.5 501.7,262.5 500.4,265.8 C499.1,269.1 499.2,272.3 498.7,275 C498.2,277.7 497.7,280.8 497.5,282" fill="none" stroke="#1a1a1a" stroke-width="0.45"/>
<path d="M531,108 C530.9,105.5 530.7,102 531.5,100 C532.3,98 533.8,96.8 536,96 C538.2,95.2 541.8,94.8 545,95 C548.2,95.2 552.2,95.9 555,97 C557.8,98.1 560.3,99.7 562,101.5 C563.7,103.3 564.8,105.6 565,108 C565.2,110.4 564.2,113.6 563,116 C561.8,118.4 560.2,120.9 558,122.5 C555.8,124.1 552.8,125.4 550,125.8 C547.2,126.2 543.6,125.8 541,125 C538.4,124.2 536,122.7 534.5,121 C533,119.3 532.6,117.2 532,115 C531.4,112.8 531.1,110.5 531,108Z" fill="none" stroke="#1a1a1a" stroke-width="0.45"/>
<ellipse cx="540.6" cy="108.6" rx="2.7" ry="5.2" fill="none" stroke="#1a1a1a" stroke-width="0.45" transform="rotate(-15 540.6 108.6)"/>
<circle cx="507.3" cy="143.5" r="6.6" fill="none" stroke="#1a1a1a" stroke-width="0.45"/>
<circle cx="527" cy="133.8" r="3.6" fill="none" stroke="#1a1a1a" stroke-width="0.45"/>
<path d="M479.5,93.5 C479,94.4 477.1,97.1 476.5,99 C475.9,100.9 475.6,102.8 475.6,105 C475.6,107.2 476.6,110.1 476.4,112 C476.1,113.9 475.4,114.8 474.1,116.5 C472.9,118.2 470.5,120.1 468.9,122 C467.3,123.9 466.4,126.5 464.5,128.1 C462.6,129.7 459.4,130.7 457.5,131.6 C455.6,132.5 454.1,132.6 453.1,133.6 C452.1,134.6 451.9,136.2 451.5,137.5 C451.1,138.8 451.5,140.4 450.5,141.3 C449.5,142.2 447.1,142.7 445.3,143 C443.6,143.3 441.7,142.5 440,143 C438.3,143.5 436,145.1 435,146.2 C434,147.4 433.1,148.8 433.8,150 C434.4,151.2 438.1,152.5 438.8,153.8 C439.4,155 439.4,156.7 437.5,157.5 C435.6,158.3 431.5,158.5 427.5,158.8 C423.5,159 416,158.8 413.8,158.8" fill="none" stroke="#1a1a1a" stroke-width="0.45"/>
<path d="M421,169 C422.8,169 429.2,168.9 432,168.8 C434.8,168.7 436.7,168.3 438,168.5 C439.3,168.7 440.2,169.3 440,170 C439.8,170.7 438.3,171.6 437,172.5 C435.7,173.4 433.6,174.4 432,175.5 C430.4,176.6 428.2,178.4 427.5,179" fill="none" stroke="#1a1a1a" stroke-width="0.45"/>
<path d="M436,188 C436.8,187.2 438.7,184.9 441,183.5 C443.3,182.1 446.5,180.7 450,179.5 C453.5,178.3 458,177.3 462,176.5 C466,175.7 470,174.8 474,174.5 C478,174.2 482.3,174 486,174.5 C489.7,175 493.2,176.1 496,177.5 C498.8,178.9 501.1,180.9 503,183 C504.9,185.1 506.4,187.5 507.5,190 C508.6,192.5 509.1,195.3 509.5,198 C509.9,200.7 509.6,203.7 510,206 C510.4,208.3 511.1,210 512,212 C512.9,214 514.8,215.8 515.5,218 C516.2,220.2 516.8,222.8 516.5,225 C516.2,227.2 514.4,230 514,231" fill="none" stroke="#1a1a1a" stroke-width="0.45"/>
<path d="M496.3,194.4 C498.2,194.5 500.5,195.2 502,196.5 C503.5,197.8 505,200 505.3,202 C505.6,204 504.5,206.4 504,208.5 C503.5,210.6 502.1,213.1 502.2,214.8 C502.3,216.6 503.3,217.6 504.5,219 C505.7,220.4 508.5,221.3 509.5,223 C510.5,224.7 510.9,227.2 510.5,229 C510.1,230.8 508.7,232.9 507,234 C505.3,235.1 502.5,235.8 500.5,235.5 C498.5,235.2 496.2,233.7 495,232 C493.8,230.3 493.6,227.7 493,225.5 C492.4,223.3 491.9,220.9 491.5,219 C491.1,217.1 491.4,215.8 490.8,214 C490.2,212.2 488.6,210.1 488,208 C487.4,205.9 486.9,203.5 487.3,201.5 C487.7,199.5 489,197.2 490.5,196 C492,194.8 494.4,194.3 496.3,194.4Z" fill="none" stroke="#1a1a1a" stroke-width="0.45"/>
<circle cx="497.7" cy="203.4" r="3.4" fill="none" stroke="#1a1a1a" stroke-width="0.45"/>
<circle cx="502.4" cy="227.2" r="1.6" fill="none" stroke="#3a1410" stroke-width="0.3" stroke-opacity="0.7"/>
<circle cx="502.4" cy="227.2" r="2.8" fill="none" stroke="#3a1410" stroke-width="0.3" stroke-opacity="0.7"/>
<circle cx="502.4" cy="227.2" r="4" fill="none" stroke="#3a1410" stroke-width="0.3" stroke-opacity="0.7"/>
<circle cx="502.4" cy="227.2" r="5.2" fill="none" stroke="#3a1410" stroke-width="0.3" stroke-opacity="0.7"/>
<circle cx="502.4" cy="227.2" r="6.4" fill="none" stroke="#3a1410" stroke-width="0.3" stroke-opacity="0.7"/>
<circle cx="502.4" cy="227.2" r="7.6" fill="none" stroke="#3a1410" stroke-width="0.3" stroke-opacity="0.7"/>
<path d="M470,222 C471.3,221.9 475.3,221.1 478,221.5 C480.7,221.9 483.7,223.1 486,224.5 C488.3,225.9 490,228.1 492,230 C494,231.9 495.8,234.7 498,236 C500.2,237.3 502.8,238.2 505,238 C507.2,237.8 509.5,236.5 511,235 C512.5,233.5 513.5,230 514,229" fill="none" stroke="#1a1a1a" stroke-width="0.45"/>
<circle cx="479.4" cy="235.1" r="7.2" fill="none" stroke="#1a1a1a" stroke-width="0.45"/>
<circle cx="496.9" cy="240.9" r="5.2" fill="none" stroke="#1a1a1a" stroke-width="0.45"/>
<circle cx="511.3" cy="236.4" r="2.4" fill="none" stroke="#1a1a1a" stroke-width="0.45"/>
<circle cx="520.9" cy="263.2" r="8" fill="none" stroke="#1a1a1a" stroke-width="0.45"/>
<ellipse cx="534" cy="212" rx="7" ry="9.6" fill="none" stroke="#1a1a1a" stroke-width="0.45"/>
<circle cx="573.4" cy="176.3" r="2.4" fill="none" stroke="#2a120c" stroke-width="0.3" stroke-opacity="0.7"/>
<circle cx="573.4" cy="176.3" r="3.9" fill="none" stroke="#2a120c" stroke-width="0.3" stroke-opacity="0.7"/>
<circle cx="573.4" cy="176.3" r="5.4" fill="none" stroke="#2a120c" stroke-width="0.3" stroke-opacity="0.7"/>
<circle cx="573.4" cy="176.3" r="7" fill="none" stroke="#2a120c" stroke-width="0.3" stroke-opacity="0.7"/>
<path d="M565,192.5 C563,190.8 562.3,187.4 562,184 C561.7,180.6 562.2,175.7 563,172 C563.8,168.3 564.8,164.5 566.5,162 C568.2,159.5 570.2,158.1 573,157 C575.8,155.9 579.7,155.7 583,155.5 C586.3,155.3 590.6,155.2 593,156 C595.4,156.8 596.7,158 597.5,160 C598.3,162 598.4,165.2 598,168 C597.6,170.8 596.3,174.2 595,177 C593.7,179.8 592,182.7 590,185 C588,187.3 585.7,189.4 583,191 C580.3,192.6 577,194.2 574,194.5 C571,194.8 567,194.2 565,192.5Z" fill="none" stroke="#1a1a1a" stroke-width="0.45"/>
<path d="M594.2,134.6 C593.2,135.1 590.7,136.5 588.3,137.5 C585.9,138.5 582.3,139.3 579.6,140.4 C576.9,141.5 574.5,142.5 572.3,144 C570.1,145.5 568.3,147.1 566.5,149.2 C564.7,151.3 562.6,153.9 561.4,156.5 C560.2,159.1 560,162.4 559.5,165 C559,167.6 559.8,169.8 558.5,172 C557.2,174.2 554,176.2 552,178.5 C550,180.8 547.7,183.4 546.5,186 C545.3,188.6 545,191.2 545,194 C545,196.8 545.8,200 546.5,203 C547.2,206 548.6,209.2 549.5,212 C550.4,214.8 550.9,217.3 552,220 C553.1,222.7 554.3,225.8 556,228 C557.7,230.2 559.7,231.8 562,233 C564.3,234.2 567.3,234.8 570,235 C572.7,235.2 575.8,234.2 578,234.5 C580.2,234.8 581.8,235.9 583,237 C584.2,238.1 583.5,239.8 585,241 C586.5,242.2 589.5,243 592,244 C594.5,245 598.7,246.5 600,247" fill="none" stroke="#1a1a1a" stroke-width="0.45"/>
<circle cx="565.4" cy="211.3" r="1.8" fill="none" stroke="#2a120c" stroke-width="0.3"/>
<circle cx="565.4" cy="211.3" r="3.4" fill="none" stroke="#2a120c" stroke-width="0.3"/>
<circle cx="565.4" cy="211.3" r="5.2" fill="none" stroke="#2a120c" stroke-width="0.3"/>
<ellipse cx="566.5" cy="212" rx="9.2" ry="12.2" fill="none" stroke="#1a1a1a" stroke-width="0.45"/>
<path d="M587,190 C588.5,188.1 590.2,187.2 592,186.5 C593.8,185.8 596.2,185.7 598,186 C599.8,186.3 601.6,187.2 603,188.5 C604.4,189.8 605.8,191.8 606.5,194 C607.2,196.2 607.3,199.2 607,202 C606.7,204.8 605.8,208.2 604.5,211 C603.2,213.8 601.4,216.9 599.5,219 C597.6,221.1 595.2,222.9 593,223.5 C590.8,224.1 587.9,223.6 586,222.5 C584.1,221.4 582.3,219.4 581.5,217 C580.7,214.6 580.8,211.2 581,208 C581.2,204.8 582,201 583,198 C584,195 585.5,191.9 587,190Z" fill="none" stroke="#1a1a1a" stroke-width="0.45"/>
<circle cx="593.8" cy="195.9" r="2.6" fill="none" stroke="#1a1a1a" stroke-width="0.45"/>
<ellipse cx="628.5" cy="227.5" rx="13.5" ry="11.8" fill="none" stroke="#1a1a1a" stroke-width="0.45" transform="rotate(-15 628.5 227.5)"/>
<circle cx="632.3" cy="219.3" r="3" fill="none" stroke="#1a1a1a" stroke-width="0.45"/>
<circle cx="634.8" cy="207.8" r="1.8" fill="none" stroke="#2a120c" stroke-width="0.3"/>
<circle cx="634.8" cy="207.8" r="3.4" fill="none" stroke="#2a120c" stroke-width="0.3"/>
<circle cx="634.8" cy="207.8" r="5.2" fill="none" stroke="#2a120c" stroke-width="0.3"/>
<circle cx="634.8" cy="207.8" r="6.8" fill="none" stroke="#2a120c" stroke-width="0.3"/>
<path d="M627,190 C626.5,191 624.6,193.8 624,196 C623.4,198.2 623.2,200.8 623.5,203 C623.8,205.2 624.8,207.2 626,209 C627.2,210.8 629,212.5 631,213.5 C633,214.5 635.5,214.8 638,215 C640.5,215.2 643.7,214.5 646,214.5 C648.3,214.5 651,214.9 652,215" fill="none" stroke="#1a1a1a" stroke-width="0.45"/>
</g>
<circle cx="523.6" cy="208.9" r="2.3" fill="#3d7d2e"/>
<circle cx="535.7" cy="166" r="2.3" fill="#3d7d2e"/>
<circle cx="511.4" cy="236.2" r="2.3" fill="#3d7d2e"/>
<circle cx="593.8" cy="195.9" r="2.3" fill="#3d7d2e"/>
<circle cx="632.3" cy="219.3" r="2.3" fill="#3d7d2e"/>
<circle cx="524.5" cy="141" r="2.3" fill="#3d7d2e"/>
<circle cx="540" cy="104.8" r="2.3" fill="#3d7d2e"/>
<circle cx="448.4" cy="81.4" r="1.1" fill="#000"/>
<circle cx="462.2" cy="74.3" r="1.1" fill="#000"/>
<circle cx="467.3" cy="72.5" r="1.1" fill="#000"/>
<circle cx="471.3" cy="78.7" r="1.1" fill="#000"/>
<circle cx="493.4" cy="82.4" r="1.1" fill="#000"/>
<circle cx="481.5" cy="67.7" r="1.1" fill="#000"/>
<circle cx="435.1" cy="93.7" r="1.1" fill="#000"/>
<circle cx="489.6" cy="90.2" r="1.1" fill="#000"/>
<circle cx="500.1" cy="88.1" r="1.1" fill="#000"/>
<circle cx="505.8" cy="94.7" r="1.1" fill="#000"/>
<circle cx="483.6" cy="97" r="1.1" fill="#000"/>
<circle cx="497.5" cy="97" r="1.1" fill="#000"/>
<circle cx="490.7" cy="108.4" r="1.1" fill="#000"/>
<circle cx="512.8" cy="104.2" r="1.1" fill="#000"/>
<circle cx="531.1" cy="96" r="1.1" fill="#000"/>
<circle cx="539.5" cy="104.8" r="1.1" fill="#000"/>
<circle cx="541.6" cy="112.3" r="1.1" fill="#000"/>
<circle cx="526.9" cy="134.5" r="1.1" fill="#000"/>
<circle cx="524.5" cy="141" r="1.1" fill="#000"/>
<circle cx="507.3" cy="143.5" r="1.1" fill="#000"/>
<circle cx="548.6" cy="149.7" r="1.1" fill="#000"/>
<circle cx="553.3" cy="168.3" r="1.1" fill="#000"/>
<circle cx="510.3" cy="160" r="1.1" fill="#000"/>
<circle cx="573.4" cy="176.3" r="1.1" fill="#000"/>
<circle cx="559.4" cy="187.7" r="1.1" fill="#000"/>
<circle cx="622.8" cy="200.8" r="1.1" fill="#000"/>
<circle cx="593.8" cy="195.9" r="1.1" fill="#000"/>
<circle cx="491.9" cy="187.1" r="1.1" fill="#000"/>
<circle cx="473.5" cy="210" r="1.1" fill="#000"/>
<circle cx="497.7" cy="203.2" r="1.1" fill="#000"/>
<circle cx="512" cy="206" r="1.1" fill="#000"/>
<circle cx="529" cy="192.9" r="1.1" fill="#000"/>
<circle cx="521.3" cy="220.6" r="1.1" fill="#000"/>
<circle cx="538.8" cy="228.8" r="1.1" fill="#000"/>
<circle cx="552" cy="215.1" r="1.1" fill="#000"/>
<circle cx="559" cy="187.6" r="1.1" fill="#000"/>
<circle cx="586.1" cy="211.6" r="1.1" fill="#000"/>
<circle cx="479.2" cy="235.2" r="1.1" fill="#000"/>
<circle cx="496.8" cy="241" r="1.1" fill="#000"/>
<circle cx="511.4" cy="236.2" r="1.1" fill="#000"/>
<circle cx="532.7" cy="242.9" r="1.1" fill="#000"/>
<circle cx="531.8" cy="211.3" r="1.1" fill="#000"/>
<circle cx="565.4" cy="211.3" r="1.1" fill="#000"/>
<circle cx="502.4" cy="227" r="1.1" fill="#000"/>
<circle cx="523.6" cy="208.9" r="1.1" fill="#000"/>
<circle cx="535.7" cy="166" r="1.1" fill="#000"/>
<circle cx="520.7" cy="262.5" r="1.1" fill="#000"/>
<circle cx="634.8" cy="207.8" r="1.1" fill="#000"/>
<circle cx="632.3" cy="219.3" r="1.1" fill="#000"/>
<circle cx="622.6" cy="229" r="1.1" fill="#000"/>
<circle cx="595.5" cy="219.2" r="1.1" fill="#000"/>
<text x="454.5" y="63" font-size="6.1" text-anchor="middle" transform="rotate(-10 454.5 63)" class="cl">1.8</text>
<text x="452" y="73.5" font-size="6.1" text-anchor="middle" transform="rotate(-20 452 73.5)" class="cl">2.1</text>
<text x="437.5" y="76.5" font-size="6.1" text-anchor="middle" transform="rotate(55 437.5 76.5)" class="cl">1.7</text>
<text x="486.8" y="33.5" font-size="6.1" text-anchor="middle" transform="rotate(30 486.8 33.5)" class="cl">2</text>
<text x="487.5" y="66" font-size="6.1" text-anchor="middle" transform="rotate(50 487.5 66)" class="cl">0.6</text>
<text x="415.3" y="89.5" font-size="6.1" text-anchor="middle" transform="rotate(-50 415.3 89.5)" class="cl">1.2</text>
<text x="425.6" y="95" font-size="6.1" text-anchor="middle" transform="rotate(-80 425.6 95)" class="cl">0.9</text>
<text x="476" y="95.5" font-size="6.1" text-anchor="middle" transform="rotate(-80 476 95.5)" class="cl">0.6</text>
<text x="478.5" y="110" font-size="6.1" text-anchor="middle" transform="rotate(-80 478.5 110)" class="cl">0.9</text>
<text x="503.5" y="105.5" font-size="6.1" text-anchor="middle" transform="rotate(50 503.5 105.5)" class="cl">0.6</text>
<text x="530" y="82" font-size="6.1" text-anchor="middle" transform="rotate(-50 530 82)" class="cl">0.9</text>
<text x="556.5" y="112" font-size="6.1" text-anchor="middle" transform="rotate(-60 556.5 112)" class="cl">0.6</text>
<text x="455.8" y="138.5" font-size="6.1" text-anchor="middle" transform="rotate(-50 455.8 138.5)" class="cl">1.2</text>
<text x="419" y="156.5" font-size="6.1" text-anchor="middle" transform="rotate(0 419 156.5)" class="cl">1.2</text>
<text x="428" y="167" font-size="6.1" text-anchor="middle" transform="rotate(0 428 167)" class="cl">1.2</text>
<text x="468.5" y="173.5" font-size="6.1" text-anchor="middle" transform="rotate(0 468.5 173.5)" class="cl">1.2</text>
<text x="497.5" y="139" font-size="6.1" text-anchor="middle" transform="rotate(-60 497.5 139)" class="cl">0.6</text>
<text x="526" y="127.5" font-size="6.1" text-anchor="middle" transform="rotate(0 526 127.5)" class="cl">0.9</text>
<text x="493.5" y="193.5" font-size="6.1" text-anchor="middle" transform="rotate(0 493.5 193.5)" class="cl">1.8</text>
<text x="492.5" y="211" font-size="6.1" text-anchor="middle" transform="rotate(60 492.5 211)" class="cl">1.7</text>
<text x="475.5" y="227" font-size="6.1" text-anchor="middle" transform="rotate(0 475.5 227)" class="cl">0.9</text>
<text x="487" y="235.5" font-size="6.1" text-anchor="middle" transform="rotate(-60 487 235.5)" class="cl">0.6</text>
<text x="518.5" y="235.5" font-size="6.1" text-anchor="middle" transform="rotate(90 518.5 235.5)" class="cl">0.9</text>
<text x="527.5" y="208.5" font-size="6.1" text-anchor="middle" transform="rotate(90 527.5 208.5)" class="cl">0.6</text>
<text x="539.5" y="164.5" font-size="6.1" text-anchor="middle" transform="rotate(75 539.5 164.5)" class="cl">0.6</text>
<text x="537.5" y="191.5" font-size="6.1" text-anchor="middle" transform="rotate(90 537.5 191.5)" class="cl">0.9</text>
<text x="559.5" y="198" font-size="6.1" text-anchor="middle" transform="rotate(-40 559.5 198)" class="cl">1.3</text>
<text x="520.5" y="252" font-size="6.1" text-anchor="middle" transform="rotate(0 520.5 252)" class="cl">0.6</text>
<text x="562" y="250.5" font-size="6.1" text-anchor="middle" transform="rotate(80 562 250.5)" class="cl">0.9</text>
<text x="602.5" y="196" font-size="6.1" text-anchor="middle" transform="rotate(80 602.5 196)" class="cl">0.6</text>
<text x="599" y="212.5" font-size="6.1" text-anchor="middle" transform="rotate(80 599 212.5)" class="cl">0.9</text>
<text x="622" y="196" font-size="6.1" text-anchor="middle" transform="rotate(80 622 196)" class="cl">1.2</text>
<text x="617" y="218" font-size="6.1" text-anchor="middle" transform="rotate(-45 617 218)" class="cl">0.9</text>
<text x="580" y="172" font-size="6.1" text-anchor="middle" transform="rotate(80 580 172)" class="cl">1.8</text>
<path d="M512,19.1 L661.8,228.8 L506.2,300 L371.1,98.1Z" fill="none" stroke="#000" stroke-width="0.9"/>
<rect x="11.5" y="12.4" width="319.9" height="319.1" fill="none" stroke="#3a3a3a" stroke-width="1.15"/>
<path d="M52.5,12.4 v-3 M52.5,331.5 v3" stroke="#111" stroke-width="0.9"/>
<path d="M195.4,12.4 v-3 M195.4,331.5 v3" stroke="#111" stroke-width="0.9"/>
<path d="M11.5,35.3 h-3.2 M331.4,35.3 h3.2" stroke="#111" stroke-width="0.9"/>
<path d="M11.5,177.5 h-3.2 M331.4,177.5 h3.2" stroke="#111" stroke-width="0.9"/>
<path d="M11.5,320.1 h-3.2 M331.4,320.1 h3.2" stroke="#111" stroke-width="0.9"/>
<text x="52.5" y="7.5" text-anchor="middle" class="ax">80°45'0"E</text>
<text x="52.5" y="340.5" text-anchor="middle" class="ax">80°45'0"E</text>
<text x="195.4" y="7.5" text-anchor="middle" class="ax">80°55'30"E</text>
<text x="195.4" y="340.5" text-anchor="middle" class="ax">80°55'30"E</text>
<text x="6.6" y="36.2" text-anchor="middle" class="ax" transform="rotate(-90 6.6 36.2)">23°34'30"N</text>
<text x="340.6" y="36.2" text-anchor="middle" class="ax" transform="rotate(-90 340.6 36.2)">23°34'30"N</text>
<text x="6.6" y="178.4" text-anchor="middle" class="ax" transform="rotate(-90 6.6 178.4)">23°24'0"N</text>
<text x="340.6" y="178.4" text-anchor="middle" class="ax" transform="rotate(-90 340.6 178.4)">23°24'0"N</text>
<text x="6.6" y="321" text-anchor="middle" class="ax" transform="rotate(-90 6.6 321)">23°13'30"N</text>
<text x="340.6" y="321" text-anchor="middle" class="ax" transform="rotate(-90 340.6 321)">23°13'30"N</text>
<rect x="352.9" y="12.4" width="319.1" height="317.4" fill="none" stroke="#3a3a3a" stroke-width="1.15"/>
<path d="M393.3,12.4 v-3 M393.3,329.8 v3" stroke="#111" stroke-width="0.9"/>
<path d="M536.5,12.4 v-3 M536.5,329.8 v3" stroke="#111" stroke-width="0.9"/>
<path d="M352.9,35.6 h-3.2 M672,35.6 h3.2" stroke="#111" stroke-width="0.9"/>
<path d="M352.9,177 h-3.2 M672,177 h3.2" stroke="#111" stroke-width="0.9"/>
<path d="M352.9,318.5 h-3.2 M672,318.5 h3.2" stroke="#111" stroke-width="0.9"/>
<text x="393.3" y="7.5" text-anchor="middle" class="ax">80°45'0"E</text>
<text x="393.3" y="338.8" text-anchor="middle" class="ax">80°45'0"E</text>
<text x="536.5" y="7.5" text-anchor="middle" class="ax">80°55'30"E</text>
<text x="536.5" y="338.8" text-anchor="middle" class="ax">80°55'30"E</text>
<text x="348" y="36.5" text-anchor="middle" class="ax" transform="rotate(-90 348 36.5)">23°34'30"N</text>
<text x="681.2" y="36.5" text-anchor="middle" class="ax" transform="rotate(-90 681.2 36.5)">23°34'30"N</text>
<text x="348" y="177.9" text-anchor="middle" class="ax" transform="rotate(-90 348 177.9)">23°24'0"N</text>
<text x="681.2" y="177.9" text-anchor="middle" class="ax" transform="rotate(-90 681.2 177.9)">23°24'0"N</text>
<text x="348" y="319.4" text-anchor="middle" class="ax" transform="rotate(-90 348 319.4)">23°13'30"N</text>
<text x="681.2" y="319.4" text-anchor="middle" class="ax" transform="rotate(-90 681.2 319.4)">23°13'30"N</text>
<text x="15" y="233.9" class="lt">HI Male</text>
<text x="15" y="244.5" class="lt">(Post-monsoon)</text>
<rect x="14.6" y="254" width="20.6" height="8.9" fill="#5aaa3a" stroke="#6f6f60" stroke-width="0.8"/>
<text x="39.2" y="262" class="lg">&lt; 1</text>
<rect x="14.6" y="267.6" width="20.6" height="8.9" fill="#fbea2c" stroke="#6f6f60" stroke-width="0.8"/>
<text x="39.2" y="275.6" class="lg">1.1 - 1.5</text>
<rect x="14.6" y="281.1" width="20.6" height="8.9" fill="#f39d22" stroke="#6f6f60" stroke-width="0.8"/>
<text x="39.2" y="289.1" class="lg">1.6 - 2</text>
<rect x="14.6" y="294.7" width="20.6" height="8.9" fill="#e2402a" stroke="#6f6f60" stroke-width="0.8"/>
<text x="39.2" y="302.7" class="lg">&gt; 2</text>
<path d="M14.6,309.4 h19.5" stroke="#555" stroke-width="0.6"/>
<text x="38.8" y="312.2" class="lg">Contour Line</text>
<rect x="14.6" y="318.4" width="20.6" height="8.9" fill="#fff" stroke="#222" stroke-width="0.7"/>
<text x="38.8" y="326" class="lg">Study Area</text>
<text x="356.1" y="228.9" class="lt">HI Male</text>
<text x="356.1" y="239.8" class="lt">(Pre-monsoon)</text>
<rect x="355.7" y="249.8" width="20.6" height="8.9" fill="#5aaa3a" stroke="#6f6f60" stroke-width="0.8"/>
<text x="380.3" y="257.6" class="lg">&lt; 1</text>
<rect x="355.7" y="263.8" width="20.6" height="8.9" fill="#fbea2c" stroke="#6f6f60" stroke-width="0.8"/>
<text x="380.3" y="271.6" class="lg">1.1 - 1.5</text>
<rect x="355.7" y="277.8" width="20.6" height="8.9" fill="#f39d22" stroke="#6f6f60" stroke-width="0.8"/>
<text x="380.3" y="285.6" class="lg">1.6 - 2</text>
<rect x="355.7" y="291.8" width="20.6" height="8.9" fill="#e2402a" stroke="#6f6f60" stroke-width="0.8"/>
<text x="380.3" y="299.6" class="lg">&gt; 2</text>
<path d="M355.7,307.5 h19.5" stroke="#555" stroke-width="0.6"/>
<text x="379.9" y="310.3" class="lg">Contour Line</text>
<rect x="355.7" y="316.1" width="20.6" height="8.9" fill="#fff" stroke="#222" stroke-width="0.7"/>
<text x="379.9" y="323.7" class="lg">Study Area</text>
<rect x="196.6" y="313" width="120.8" height="6.4" fill="#fff" stroke="#000" stroke-width="1"/>
<rect x="196.6" y="313" width="7.5" height="3.2" fill="#000"/>
<rect x="204.2" y="316.2" width="7.5" height="3.2" fill="#000"/>
<rect x="211.7" y="313" width="7.5" height="3.2" fill="#000"/>
<rect x="219.2" y="316.2" width="7.5" height="3.2" fill="#000"/>
<rect x="226.8" y="313" width="30.2" height="3.2" fill="#000"/>
<rect x="257" y="316.2" width="30.2" height="3.2" fill="#000"/>
<rect x="287.2" y="313" width="30.2" height="3.2" fill="#000"/>
<text x="196.6" y="310.3" text-anchor="middle" class="sb">0</text>
<text x="211.7" y="310.3" text-anchor="middle" class="sb">2</text>
<text x="226.8" y="310.3" text-anchor="middle" class="sb">4</text>
<text x="257" y="310.3" text-anchor="middle" class="sb">8</text>
<text x="287.2" y="310.3" text-anchor="middle" class="sb">12</text>
<text x="317.4" y="310.3" text-anchor="middle" class="sb">16</text>
<text x="319" y="319.1" class="sb" style="font-size:5.2px">Km</text>
<rect x="536.5" y="311.2" width="120.8" height="6.4" fill="#fff" stroke="#000" stroke-width="1"/>
<rect x="536.5" y="311.2" width="7.5" height="3.2" fill="#000"/>
<rect x="544" y="314.4" width="7.5" height="3.2" fill="#000"/>
<rect x="551.6" y="311.2" width="7.5" height="3.2" fill="#000"/>
<rect x="559.1" y="314.4" width="7.5" height="3.2" fill="#000"/>
<rect x="566.7" y="311.2" width="30.2" height="3.2" fill="#000"/>
<rect x="596.9" y="314.4" width="30.2" height="3.2" fill="#000"/>
<rect x="627.1" y="311.2" width="30.2" height="3.2" fill="#000"/>
<text x="536.5" y="308.5" text-anchor="middle" class="sb">0</text>
<text x="551.6" y="308.5" text-anchor="middle" class="sb">2</text>
<text x="566.7" y="308.5" text-anchor="middle" class="sb">4</text>
<text x="596.9" y="308.5" text-anchor="middle" class="sb">8</text>
<text x="627.1" y="308.5" text-anchor="middle" class="sb">12</text>
<text x="657.3" y="308.5" text-anchor="middle" class="sb">16</text>
<text x="658.9" y="317.3" class="sb" style="font-size:5.2px">Km</text>
<g transform="translate(306.1 38.9)">
<g transform="rotate(0)"><path d="M0,-14.7 L2.5,-5 L0,-4Z" fill="#000"/><path d="M0,-14.7 L-2.5,-5 L0,-4Z" fill="#fff" stroke="#000" stroke-width="0.6" stroke-linejoin="miter"/></g>
<g transform="rotate(90)"><path d="M0,-14.7 L2.5,-5 L0,-4Z" fill="#000"/><path d="M0,-14.7 L-2.5,-5 L0,-4Z" fill="#fff" stroke="#000" stroke-width="0.6" stroke-linejoin="miter"/></g>
<g transform="rotate(180)"><path d="M0,-14.7 L2.5,-5 L0,-4Z" fill="#000"/><path d="M0,-14.7 L-2.5,-5 L0,-4Z" fill="#fff" stroke="#000" stroke-width="0.6" stroke-linejoin="miter"/></g>
<g transform="rotate(270)"><path d="M0,-14.7 L2.5,-5 L0,-4Z" fill="#000"/><path d="M0,-14.7 L-2.5,-5 L0,-4Z" fill="#fff" stroke="#000" stroke-width="0.6" stroke-linejoin="miter"/></g>
<g transform="rotate(45)"><path d="M0,-8.6 L1.3,-5.5 L-1.3,-5.5Z" fill="#000"/></g>
<g transform="rotate(135)"><path d="M0,-8.6 L1.3,-5.5 L-1.3,-5.5Z" fill="#000"/></g>
<g transform="rotate(225)"><path d="M0,-8.6 L1.3,-5.5 L-1.3,-5.5Z" fill="#000"/></g>
<g transform="rotate(315)"><path d="M0,-8.6 L1.3,-5.5 L-1.3,-5.5Z" fill="#000"/></g>
<circle r="6.1" fill="#fff" stroke="#000" stroke-width="1.2"/>
<path d="M0,0 L0,-6.2 A6.2,6.2 0 0 1 6.2,0Z" fill="#000"/>
<path d="M0,0 L0,6.2 A6.2,6.2 0 0 1 -6.2,0Z" fill="#000"/>
</g>
<text x="306.1" y="22.1" text-anchor="middle" class="cp">N</text>
<text x="306.1" y="61" text-anchor="middle" class="cp">S</text>
<text x="287.2" y="41.4" text-anchor="middle" class="cp">W</text>
<text x="324.9" y="41.4" text-anchor="middle" class="cp">E</text>
<g transform="translate(647.3 38.5)">
<g transform="rotate(0)"><path d="M0,-14.7 L2.5,-5 L0,-4Z" fill="#000"/><path d="M0,-14.7 L-2.5,-5 L0,-4Z" fill="#fff" stroke="#000" stroke-width="0.6" stroke-linejoin="miter"/></g>
<g transform="rotate(90)"><path d="M0,-14.7 L2.5,-5 L0,-4Z" fill="#000"/><path d="M0,-14.7 L-2.5,-5 L0,-4Z" fill="#fff" stroke="#000" stroke-width="0.6" stroke-linejoin="miter"/></g>
<g transform="rotate(180)"><path d="M0,-14.7 L2.5,-5 L0,-4Z" fill="#000"/><path d="M0,-14.7 L-2.5,-5 L0,-4Z" fill="#fff" stroke="#000" stroke-width="0.6" stroke-linejoin="miter"/></g>
<g transform="rotate(270)"><path d="M0,-14.7 L2.5,-5 L0,-4Z" fill="#000"/><path d="M0,-14.7 L-2.5,-5 L0,-4Z" fill="#fff" stroke="#000" stroke-width="0.6" stroke-linejoin="miter"/></g>
<g transform="rotate(45)"><path d="M0,-8.6 L1.3,-5.5 L-1.3,-5.5Z" fill="#000"/></g>
<g transform="rotate(135)"><path d="M0,-8.6 L1.3,-5.5 L-1.3,-5.5Z" fill="#000"/></g>
<g transform="rotate(225)"><path d="M0,-8.6 L1.3,-5.5 L-1.3,-5.5Z" fill="#000"/></g>
<g transform="rotate(315)"><path d="M0,-8.6 L1.3,-5.5 L-1.3,-5.5Z" fill="#000"/></g>
<circle r="6.1" fill="#fff" stroke="#000" stroke-width="1.2"/>
<path d="M0,0 L0,-6.2 A6.2,6.2 0 0 1 6.2,0Z" fill="#000"/>
<path d="M0,0 L0,6.2 A6.2,6.2 0 0 1 -6.2,0Z" fill="#000"/>
</g>
<text x="647.3" y="21.7" text-anchor="middle" class="cp">N</text>
<text x="647.3" y="60.6" text-anchor="middle" class="cp">S</text>
<text x="628.4" y="41" text-anchor="middle" class="cp">W</text>
<text x="666.1" y="41" text-anchor="middle" class="cp">E</text>
</svg></body></html>
